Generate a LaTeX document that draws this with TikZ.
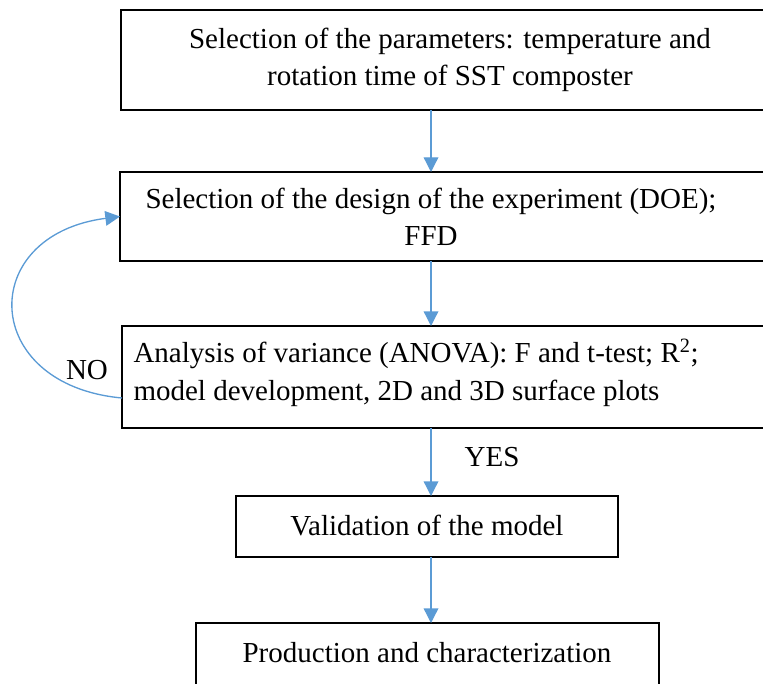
\documentclass[tikz,border=0pt]{standalone}
\usepackage{fontspec}
\setmainfont{Liberation Serif}
\usetikzlibrary{arrows.meta}

\tikzset{every picture/.style={line width=0.75pt}}
\tikzset{
  stepbox/.style={draw, line width=1pt, inner sep=0pt, outer sep=0pt},
  steptext/.style={font=\fontsize{21.75}{28}\selectfont, align=center, inner sep=0pt},
  flow/.style={color={rgb, 255:red, 91; green, 155; blue, 213}, line width=1pt, -{Triangle[length=11pt, width=11pt]}},
}

\begin{document}
\begin{tikzpicture}[x=0.75pt,y=0.75pt,yscale=-1,xscale=1]
\clip (0,0) rectangle (763,684); %frame of the diagram

%boxes
\node [stepbox, minimum width=496.5pt, minimum height=75pt] (b1) at (452,60) {};
\node [stepbox, minimum width=497.25pt, minimum height=66.75pt] (b2) at (451.5,216.5) {};
\node [stepbox, minimum width=495.75pt, minimum height=76.5pt] (b3) at (452.5,377) {};
\node [stepbox, minimum width=286.5pt, minimum height=45.75pt] (b4) at (427,526.5) {};
\node [stepbox, minimum width=347.25pt, minimum height=50.25pt] (b5) at (427.5,656.5) {};

%texts
\node [steptext] (t1) at (450,60) {Selection of the parameters: temperature and\\rotation time of SST composter};
\node [steptext] (t2) at (431,217) {Selection of the design of the experiment (DOE);\\FFD};
\node [steptext, align=left, anchor=west] (t3) at (133,373) {Analysis of variance (ANOVA): F and t-test; R\textsuperscript{2};\\model development, 2D and 3D surface plots};
\node [steptext] (t4) at (427,526) {Validation of the model};
\node [steptext] (t5) at (427,653) {Production and characterization};
\node [steptext] (yes) at (492,457) {YES};
\node [steptext] (no) at (87,370) {NO};

%arrows
\coordinate (axis) at (431,0);
\draw [flow] (b1.south -| axis) -- (b2.north -| axis);
\draw [flow] (b2.south -| axis) -- (b3.north -| axis);
\draw [flow] (b3.south -| axis) -- (b4.north -| axis);
\draw [flow] (b4.south -| axis) -- (b5.north -| axis);
\draw [flow] ([yshift=15.75pt]b3.west) .. controls (-20,385) and (-24,235) .. (b2.west);

\end{tikzpicture}
\end{document}
